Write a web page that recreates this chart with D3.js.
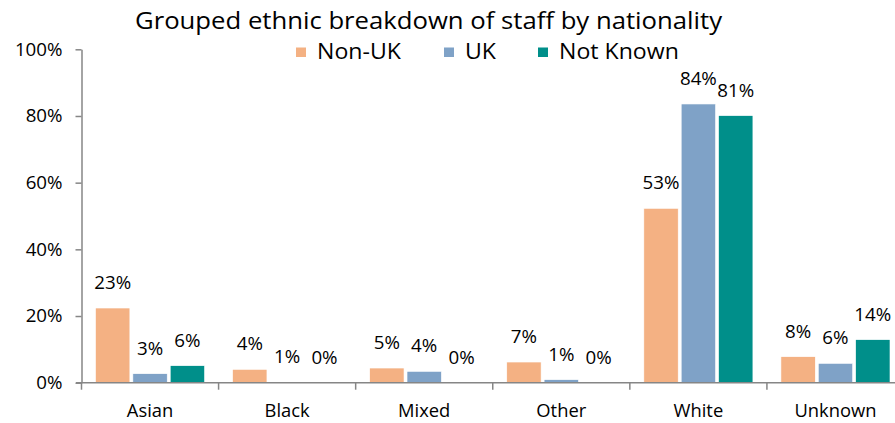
<!DOCTYPE html>
<html>
<head>
<meta charset="utf-8">
<script src="https://cdn.jsdelivr.net/npm/d3@7"></script>
<style>
  html, body { margin: 0; padding: 0; background: #fff; }
  svg { display: block; font-family: "Open Sans", "Noto Sans", sans-serif; }
</style>
</head>
<body>
<svg id="chart" width="895" height="423"></svg>
<script>
const title = "Grouped ethnic breakdown of staff by nationality";
const categories = ["Asian", "Black", "Mixed", "Other", "White", "Unknown"];
const seriesNames = ["Non-UK", "UK", "Not Known"];
const nonUK = [22.4, 4.0, 4.4, 6.2, 52.3, 7.8];
const uk = [2.7, 0.2, 3.4, 0.9, 83.6, 5.8];
const notKnown = [5.1, 0, 0, 0, 80.1, 12.9];
const nonUKLabels = ["23%", "4%", "5%", "7%", "53%", "8%"];
const ukLabels = ["3%", "1%", "4%", "1%", "84%", "6%"];
const notKnownLabels = ["6%", "0%", "0%", "0%", "81%", "14%"];
const yTicks = [0, 20, 40, 60, 80, 100];
const colors = ["#F4B183", "#7FA2C7", "#008F8A"];

const seriesValues = [nonUK, uk, notKnown];
const seriesLabels = [nonUKLabels, ukLabels, notKnownLabels];

// slightly widen text to match the reference rendering
function stretch(sel, f) {
  sel.each(function () {
    const w = this.getComputedTextLength();
    d3.select(this).attr("textLength", w * f).attr("lengthAdjust", "spacingAndGlyphs");
  });
}

const svg = d3.select("#chart");

const x0 = d3.scaleBand().domain(categories).range([81.5, 904]).padding(0);
const x1 = d3.scaleBand().domain(seriesNames).range([14, x0.bandwidth() - 14]).paddingInner(0.08);
const y = d3.scaleLinear().domain([0, 100]).range([382.7, 49.3]);

const axisColor = "#868686";

// Y axis
const yAxis = svg.append("g")
  .attr("transform", `translate(${x0.range()[0]},0)`)
  .call(d3.axisLeft(y).tickValues(yTicks).tickSize(6).tickSizeOuter(0).tickPadding(13)
    .tickFormat(d => d + "%"));
yAxis.select(".domain").attr("stroke", axisColor).attr("stroke-width", 1.5);
yAxis.selectAll(".tick line").attr("stroke", axisColor).attr("stroke-width", 1.5);
yAxis.selectAll(".tick text").attr("font-size", 18).attr("fill", "#000")
  .attr("font-family", "Open Sans, sans-serif");
stretch(yAxis.selectAll(".tick text"), 1.04);

// Bars
const groups = svg.append("g").selectAll("g")
  .data(categories)
  .join("g")
  .attr("transform", d => `translate(${x0(d)},0)`);

const rowData = (c, ci) => seriesNames.map((s, si) => ({ s, si, v: seriesValues[si][ci], label: seriesLabels[si][ci] }));

groups.selectAll("rect")
  .data(rowData)
  .join("rect")
  .attr("x", d => x1(d.s))
  .attr("width", x1.bandwidth())
  .attr("y", d => y(d.v))
  .attr("height", d => y(0) - y(d.v))
  .attr("fill", d => colors[d.si])
  .attr("stroke", "#fff")
  .attr("stroke-width", 0.6);

const dl = groups.selectAll("text")
  .data(rowData)
  .join("text")
  .attr("x", d => x1(d.s) + x1.bandwidth() / 2)
  .attr("y", d => y(d.v) - 19)
  .attr("text-anchor", "middle")
  .attr("font-size", 18)
  .attr("fill", "#000")
  .text(d => d.label);
stretch(dl, 1.04);

// X axis
const xAxisG = svg.append("g");
xAxisG.append("line")
  .attr("x1", 76).attr("x2", 904)
  .attr("y1", y(0)).attr("y2", y(0))
  .attr("stroke", axisColor).attr("stroke-width", 1.5);
const boundaries = categories.map(c => x0(c)).concat([x0.range()[1]]);
xAxisG.selectAll("line.tk")
  .data(boundaries)
  .join("line")
  .attr("class", "tk")
  .attr("x1", d => d).attr("x2", d => d)
  .attr("y1", y(0)).attr("y2", y(0) + 7)
  .attr("stroke", axisColor).attr("stroke-width", 1.5);
const cl = xAxisG.selectAll("text")
  .data(categories)
  .join("text")
  .attr("x", d => x0(d) + x0.bandwidth() / 2)
  .attr("y", 417)
  .attr("text-anchor", "middle")
  .attr("font-size", 18)
  .attr("fill", "#000")
  .text(d => d);
stretch(cl, 1.02);

// Title
const tt = svg.append("text")
  .attr("x", 428.5)
  .attr("y", 29)
  .attr("text-anchor", "middle")
  .attr("font-size", 24)
  .attr("fill", "#000")
  .text(title);
stretch(tt, 1.07);

// Legend
const legendX = [296, 444, 538];
const legend = svg.append("g").selectAll("g")
  .data(seriesNames)
  .join("g")
  .attr("transform", (d, i) => `translate(${legendX[i]},47.5)`);
legend.append("rect")
  .attr("width", 10).attr("height", 9.5)
  .attr("fill", (d, i) => colors[i]);
const lt = legend.append("text")
  .attr("x", 21).attr("y", 11)
  .attr("font-size", 22)
  .attr("fill", "#000")
  .text(d => d);
stretch(lt, 1.05);
</script>
</body>
</html>
